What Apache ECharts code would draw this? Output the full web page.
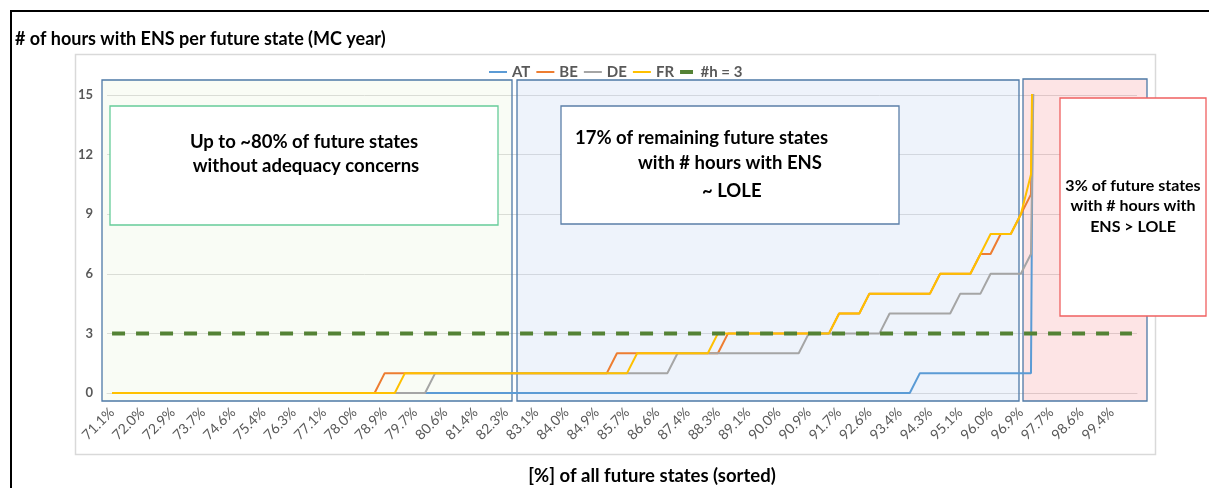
<!DOCTYPE html>
<html>
<head>
<meta charset="utf-8">
<script src="https://cdn.jsdelivr.net/npm/echarts@6/dist/echarts.min.js"></script>
<style>
  html, body { margin: 0; padding: 0; background: #ffffff; }
  #chart { width: 1209px; height: 488px; }
</style>
</head>
<body>
<div id="chart"></div>
<script>
// Share of all future states (sorted), one category per future state
const shareOfStates = [
  71.1, 71.4, 71.7, 72.0, 72.3, 72.6, 72.9, 73.1, 73.4, 73.7,
  74.0, 74.3, 74.6, 74.9, 75.1, 75.4, 75.7, 76.0, 76.3, 76.6,
  76.9, 77.1, 77.4, 77.7, 78.0, 78.3, 78.6, 78.9, 79.1, 79.4,
  79.7, 80.0, 80.3, 80.6, 80.9, 81.1, 81.4, 81.7, 82.0, 82.3,
  82.6, 82.9, 83.1, 83.4, 83.7, 84.0, 84.3, 84.6, 84.9, 85.1,
  85.4, 85.7, 86.0, 86.3, 86.6, 86.9, 87.1, 87.4, 87.7, 88.0,
  88.3, 88.6, 88.9, 89.1, 89.4, 89.7, 90.0, 90.3, 90.6, 90.9,
  91.1, 91.4, 91.7, 92.0, 92.3, 92.6, 92.9, 93.1, 93.4, 93.7,
  94.0, 94.3, 94.6, 94.9, 95.1, 95.4, 95.7, 96.0, 96.3, 96.6,
  96.9, 97.1, 97.4, 97.7, 98.0, 98.3, 98.6, 98.9, 99.1, 99.4,
  99.7, 100.0
];

// Hours with ENS per future state, by country
const hoursAT = [
  0, 0, 0, 0, 0, 0, 0, 0, 0, 0,
  0, 0, 0, 0, 0, 0, 0, 0, 0, 0,
  0, 0, 0, 0, 0, 0, 0, 0, 0, 0,
  0, 0, 0, 0, 0, 0, 0, 0, 0, 0,
  0, 0, 0, 0, 0, 0, 0, 0, 0, 0,
  0, 0, 0, 0, 0, 0, 0, 0, 0, 0,
  0, 0, 0, 0, 0, 0, 0, 0, 0, 0,
  0, 0, 0, 0, 0, 0, 0, 0, 0, 0,
  1, 1, 1, 1, 1, 1, 1, 1, 1, 1,
  1, 1, 80, 95, 110, 130, 150, 175, 200, 240,
  290, 360
];
const hoursBE = [
  0, 0, 0, 0, 0, 0, 0, 0, 0, 0,
  0, 0, 0, 0, 0, 0, 0, 0, 0, 0,
  0, 0, 0, 0, 0, 0, 0, 1, 1, 1,
  1, 1, 1, 1, 1, 1, 1, 1, 1, 1,
  1, 1, 1, 1, 1, 1, 1, 1, 1, 1,
  2, 2, 2, 2, 2, 2, 2, 2, 2, 2,
  2, 3, 3, 3, 3, 3, 3, 3, 3, 3,
  3, 3, 4, 4, 4, 5, 5, 5, 5, 5,
  5, 5, 6, 6, 6, 6, 7, 7, 8, 8,
  9, 10, 45, 52, 60, 68, 78, 90, 104, 120,
  142, 170
];
const hoursDE = [
  0, 0, 0, 0, 0, 0, 0, 0, 0, 0,
  0, 0, 0, 0, 0, 0, 0, 0, 0, 0,
  0, 0, 0, 0, 0, 0, 0, 0, 0, 0,
  0, 0, 1, 1, 1, 1, 1, 1, 1, 1,
  1, 1, 1, 1, 1, 1, 1, 1, 1, 1,
  1, 1, 1, 1, 1, 1, 2, 2, 2, 2,
  2, 2, 2, 2, 2, 2, 2, 2, 2, 3,
  3, 3, 3, 3, 3, 3, 3, 4, 4, 4,
  4, 4, 4, 4, 5, 5, 5, 6, 6, 6,
  6, 7, 42, 50, 58, 66, 75, 86, 98, 112,
  130, 155
];
const hoursFR = [
  0, 0, 0, 0, 0, 0, 0, 0, 0, 0,
  0, 0, 0, 0, 0, 0, 0, 0, 0, 0,
  0, 0, 0, 0, 0, 0, 0, 0, 0, 1,
  1, 1, 1, 1, 1, 1, 1, 1, 1, 1,
  1, 1, 1, 1, 1, 1, 1, 1, 1, 1,
  1, 1, 2, 2, 2, 2, 2, 2, 2, 2,
  3, 3, 3, 3, 3, 3, 3, 3, 3, 3,
  3, 3, 4, 4, 4, 5, 5, 5, 5, 5,
  5, 5, 6, 6, 6, 6, 7, 8, 8, 8,
  9, 11, 50, 57, 64, 72, 82, 94, 108, 125,
  146, 175
];
// LOLE reference level (#h = 3)
const loleLevel = [
  3, 3, 3, 3, 3, 3, 3, 3, 3, 3,
  3, 3, 3, 3, 3, 3, 3, 3, 3, 3,
  3, 3, 3, 3, 3, 3, 3, 3, 3, 3,
  3, 3, 3, 3, 3, 3, 3, 3, 3, 3,
  3, 3, 3, 3, 3, 3, 3, 3, 3, 3,
  3, 3, 3, 3, 3, 3, 3, 3, 3, 3,
  3, 3, 3, 3, 3, 3, 3, 3, 3, 3,
  3, 3, 3, 3, 3, 3, 3, 3, 3, 3,
  3, 3, 3, 3, 3, 3, 3, 3, 3, 3,
  3, 3, 3, 3, 3, 3, 3, 3, 3, 3,
  3, 3
];

const yTicks = [0, 3, 6, 9, 12, 15];

const FONT = 'Lato, "Open Sans", sans-serif';
const GREY = '#595959';

const chart = echarts.init(document.getElementById('chart'), null, { renderer: 'canvas' });

function lineSeries(name, data, color) {
  return {
    name: name,
    type: 'line',
    data: data,
    symbol: 'none',
    clip: true,
    lineStyle: { color: color, width: 2 },
    itemStyle: { color: color },
    emphasis: { disabled: true }
  };
}

function textLine(text, x, y, size, align) {
  return {
    type: 'text',
    z: 30,
    silent: true,
    style: {
      text: text, x: x, y: y,
      fontFamily: FONT, fontWeight: 'bold', fontSize: size,
      fill: '#000000', align: align || 'center', verticalAlign: 'middle'
    }
  };
}

// shaded range behind the curves (gridlines show through the tint)
function region(x, y, w, h, fill) {
  return {
    type: 'rect', z: 1, silent: true,
    shape: { x: x, y: y, width: w, height: h },
    style: { fill: fill, stroke: '#4E79A7', lineWidth: 1.3 }
  };
}

function noteBox(x, y, w, h, stroke) {
  return {
    type: 'rect', z: 25, silent: true,
    shape: { x: x, y: y, width: w, height: h },
    style: { fill: '#ffffff', stroke: stroke, lineWidth: 1.3 }
  };
}

// legend keys: thin line for the countries, one short thick dash for the LOLE level
const lineKey = 'path://M0,0 H18 V2 H0 Z';
const dashKey = 'path://M0,0 H13 V4 H0 Z';

const option = {
  animation: false,
  backgroundColor: '#ffffff',
  textStyle: { fontFamily: FONT },
  legend: {
    data: [
      { name: 'AT', icon: lineKey },
      { name: 'BE', icon: lineKey },
      { name: 'DE', icon: lineKey },
      { name: 'FR', icon: lineKey },
      { name: '#h = 3', icon: dashKey }
    ],
    left: 484,
    top: 56,
    z: 40,
    itemWidth: 18,
    itemHeight: 4,
    itemGap: 6,
    textStyle: { color: GREY, fontSize: 15, fontWeight: 'bold', fontFamily: FONT, lineHeight: 22 },
    selectedMode: false
  },
  grid: { left: 107, right: 72, top: 95, bottom: 95, containLabel: false },
  xAxis: {
    type: 'category',
    data: shareOfStates.map(v => v.toFixed(1) + '%'),
    boundaryGap: true,
    axisLine: { show: true, lineStyle: { color: '#D9D9D9' } },
    axisTick: { show: false },
    axisLabel: {
      interval: 2, rotate: 45, margin: 17,
      color: GREY, fontSize: 14, fontFamily: FONT
    },
    splitLine: { show: false }
  },
  yAxis: {
    type: 'value',
    min: yTicks[0],
    max: yTicks[yTicks.length - 1],
    interval: 3,
    axisLine: { show: false },
    axisTick: { show: false },
    axisLabel: { margin: 14, color: GREY, fontSize: 13, fontWeight: 'bold', fontFamily: FONT },
    splitLine: { lineStyle: { color: '#D9D9D9', width: 1 } }
  },
  series: [
    lineSeries('AT', hoursAT, '#5B9BD5'),
    lineSeries('BE', hoursBE, '#ED7D31'),
    lineSeries('DE', hoursDE, '#A5A5A5'),
    lineSeries('FR', hoursFR, '#FFC000'),
    {
      name: '#h = 3',
      type: 'line',
      data: loleLevel,
      symbol: 'none',
      lineStyle: { color: '#548235', width: 4, type: [13, 11] },
      itemStyle: { color: '#548235' },
      emphasis: { disabled: true }
    }
  ],
  graphic: {
    elements: [
      // outer frame
      {
        type: 'rect', z: 0, silent: true,
        shape: { x: 11, y: 11, width: 1400, height: 700 },
        style: { fill: 'none', stroke: '#000000', lineWidth: 2 }
      },
      // chart area border
      {
        type: 'rect', z: 0, silent: true,
        shape: { x: 75.5, y: 54.5, width: 1080, height: 400 },
        style: { fill: 'none', stroke: '#D9D9D9', lineWidth: 1.5 }
      },
      // title
      {
        type: 'text', z: 30, silent: true,
        style: {
          text: '# of hours with ENS per future state (MC year)',
          x: 15, y: 39, fontFamily: FONT, fontWeight: 'bold', fontSize: 18,
          fill: '#000000', align: 'left', verticalAlign: 'middle'
        }
      },
      // x axis title
      textLine('[%] of all future states (sorted)', 652, 476, 18.5),

      // shaded ranges
      region(102, 80, 410, 321, 'rgba(225,240,205,0.2)'),
      region(517, 80, 502, 321, 'rgba(190,210,240,0.26)'),
      region(1023, 79, 124, 322, 'rgba(245,130,135,0.22)'),

      // annotation boxes
      noteBox(110, 106, 388, 119, '#66CC99'),
      textLine('Up to ~80% of future states', 304, 142, 18.5),
      textLine('without adequacy concerns', 306, 166, 18.5),

      noteBox(561, 106, 338, 118, '#5B7FA8'),
      textLine('17% of remaining future states', 575, 138, 18.5, 'left'),
      textLine('with # hours with ENS', 638, 163, 18.5, 'left'),
      textLine('~ LOLE', 702, 191, 18.5, 'left'),

      noteBox(1060, 98, 146, 218, '#F06060'),
      textLine('3% of future states', 1133, 186, 16),
      textLine('with # hours with', 1133, 206, 16),
      textLine('ENS > LOLE', 1133, 227, 16)
    ]
  }
};

chart.setOption(option);
</script>
</body>
</html>
